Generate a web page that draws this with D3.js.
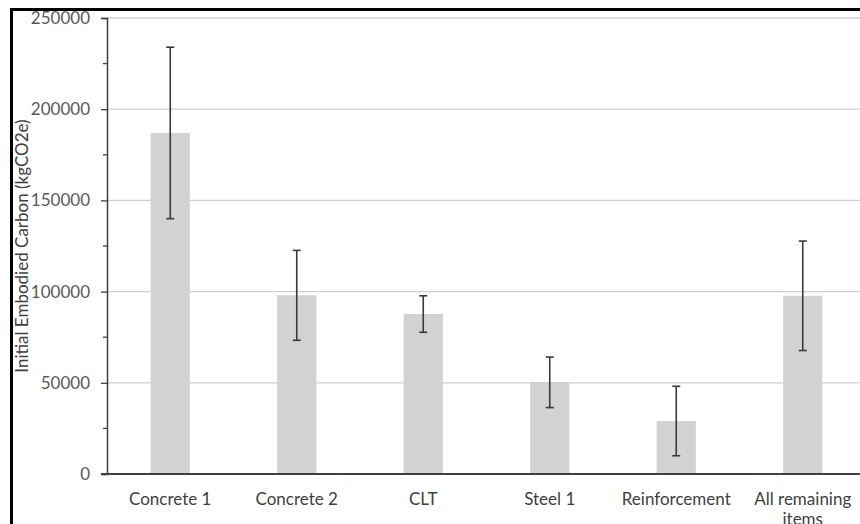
<!DOCTYPE html>
<html>
<head>
<meta charset="utf-8">
<script src="https://cdn.jsdelivr.net/npm/d3@7"></script>
<style>
  html, body { margin: 0; padding: 0; background: #fff; }
  svg { display: block; }
  text { font-family: Lato, "Open Sans", sans-serif; }
</style>
</head>
<body>
<svg id="chart" width="860" height="524"></svg>
<script>
// Material groups and their embodied carbon (kgCO2e) with uncertainty
const categories = ["Concrete 1", "Concrete 2", "CLT", "Steel 1", "Reinforcement", "All remaining items"];
const carbon = [187000, 98000, 87700, 50300, 29000, 97700];
const errLow = [140000, 73300, 77700, 36400, 10000, 67700];
const errHigh = [234000, 122600, 97700, 64100, 48100, 127700];
const yTicks = [0, 50000, 100000, 150000, 200000, 250000];
const yMinorTicks = [25000, 75000, 125000, 175000, 225000];
const yLabel = "Initial Embodied Carbon (kgCO2e)";

const svg = d3.select("#chart");
const W = 860, H = 524;
const plotLeft = 107, plotTop = 18, plotBottom = 474, plotRight = 866;
const fontSize = "17px";

const x = d3.scaleBand().domain(categories).range([plotLeft, plotRight])
  .paddingInner(0.69).paddingOuter(0.345);
const y = d3.scaleLinear().domain([0, 250000]).range([plotBottom, plotTop]);

// outer frame
svg.append("rect").attr("x", 11.5).attr("y", 9.5).attr("width", W + 20).attr("height", H + 20)
  .attr("fill", "none").attr("stroke", "#000").attr("stroke-width", 3);

// horizontal gridlines
svg.append("g").selectAll("line").data(yTicks.filter(d => d > 0)).join("line")
  .attr("x1", plotLeft).attr("x2", W)
  .attr("y1", d => y(d)).attr("y2", d => y(d))
  .attr("stroke", "#cfcfcf").attr("stroke-width", 1.3);

// bars
svg.append("g").selectAll("rect").data(categories).join("rect")
  .attr("x", d => x(d)).attr("width", x.bandwidth())
  .attr("y", (d, i) => y(carbon[i]))
  .attr("height", (d, i) => y(0) - y(carbon[i]))
  .attr("fill", "#d2d2d2");

// y axis with major and minor ticks
const yAxis = svg.append("g").attr("transform", `translate(${plotLeft},0)`)
  .call(d3.axisLeft(y).tickValues(yTicks).tickSize(6).tickPadding(11).tickFormat(d3.format("d")));
yAxis.select(".domain").attr("stroke", "#404040").attr("stroke-width", 1.5);
yAxis.selectAll(".tick line").attr("stroke", "#404040").attr("stroke-width", 1.3);
yAxis.selectAll(".tick text").attr("fill", "#595959").style("font-size", fontSize)
  .style("font-family", "Lato, 'Open Sans', sans-serif");
svg.append("g").selectAll("line").data(yMinorTicks).join("line")
  .attr("x1", plotLeft - 4).attr("x2", plotLeft)
  .attr("y1", d => y(d)).attr("y2", d => y(d))
  .attr("stroke", "#404040").attr("stroke-width", 1.3);

// baseline
svg.append("line").attr("x1", plotLeft - 6).attr("x2", W)
  .attr("y1", y(0)).attr("y2", y(0))
  .attr("stroke", "#404040").attr("stroke-width", 2);

// error bars
const eb = svg.append("g").attr("stroke", "#3a3a3a").attr("stroke-width", 1.6);
categories.forEach((c, i) => {
  const cx = x(c) + x.bandwidth() / 2;
  eb.append("line").attr("x1", cx).attr("x2", cx).attr("y1", y(errHigh[i])).attr("y2", y(errLow[i]));
  [errHigh[i], errLow[i]].forEach(v => {
    eb.append("line").attr("x1", cx - 4).attr("x2", cx + 4).attr("y1", y(v)).attr("y2", y(v));
  });
});

// category labels, wrapped to fit the band
const labelWidth = 120;
svg.append("g").selectAll("text").data(categories).join("text")
  .attr("x", d => x(d) + x.bandwidth() / 2)
  .attr("y", 505)
  .attr("text-anchor", "middle")
  .attr("fill", "#404040")
  .style("font-size", fontSize)
  .each(function(d) {
    const t = d3.select(this);
    const words = d.split(" ");
    let line = [];
    let tspan = t.append("tspan").attr("x", t.attr("x")).attr("dy", 0);
    words.forEach(w => {
      line.push(w);
      tspan.text(line.join(" "));
      if (tspan.node().getComputedTextLength() > labelWidth && line.length > 1) {
        line.pop();
        tspan.text(line.join(" "));
        line = [w];
        tspan = t.append("tspan").attr("x", t.attr("x")).attr("dy", "1.15em").text(w);
      }
    });
  });

// y axis title
svg.append("text")
  .attr("transform", `translate(28,246) rotate(-90)`)
  .attr("text-anchor", "middle")
  .attr("fill", "#404040")
  .style("font-size", fontSize)
  .text(yLabel);
</script>
</body>
</html>
